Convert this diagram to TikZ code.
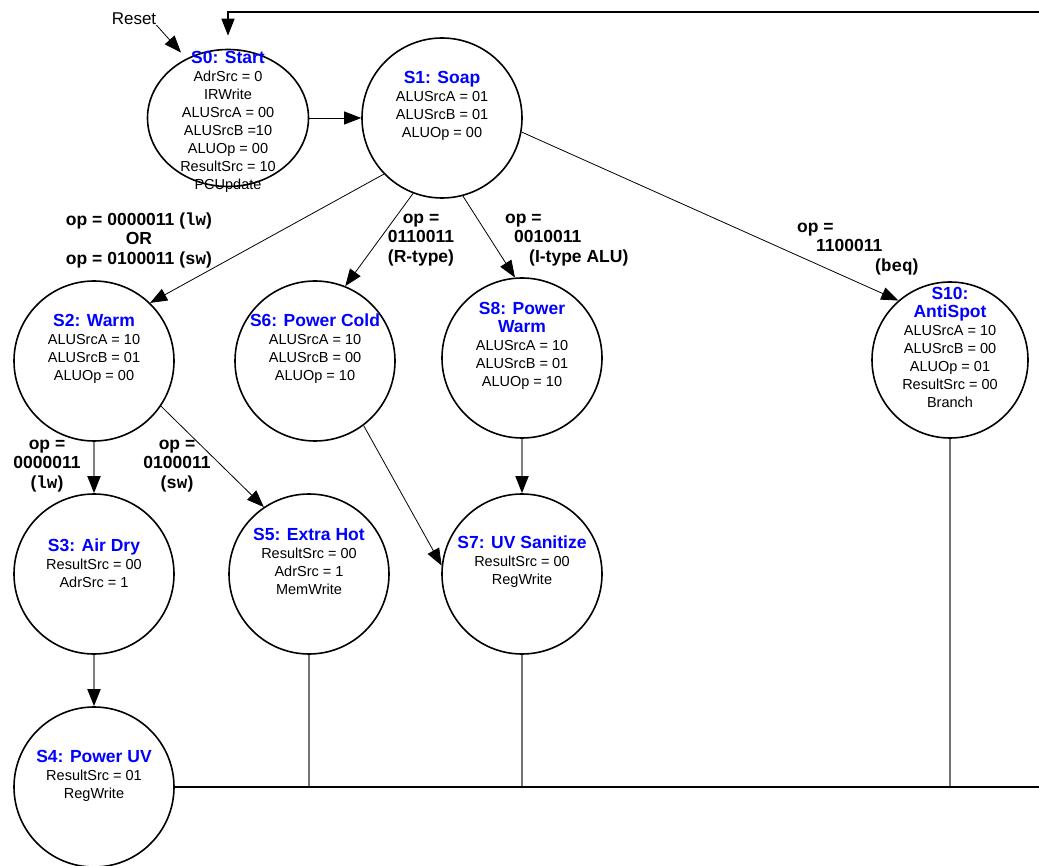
\documentclass[tikz,border=0pt]{standalone}
\usepackage{fontspec}
\setmainfont{Liberation Sans}
\setmonofont{Liberation Mono}
\usetikzlibrary{shapes.geometric, arrows.meta}
\tikzstyle{state} = [
    circle,
    minimum size=160pt,
    inner sep=0pt,
    draw=black,
    line width=1.6pt
]
\tikzstyle{stext} = [
    align=center,
    inner sep=0pt,
    font=\fontsize{14.5}{18}\selectfont
]
\tikzstyle{cond} = [
    align=center,
    inner sep=0pt,
    font=\fontsize{17.5}{19.5}\selectfont\bfseries
]
\tikzstyle{rst} = [
    inner sep=0pt,
    font=\fontsize{17}{20}\selectfont
]
\tikzstyle{arrow} = [line width=0.8pt,->,>={Triangle[length=17pt,width=13pt]}]
\tikzstyle{grayarrow} = [line width=1.8pt, draw=black!50,
    -{Triangle[length=17pt,width=13pt,color=black]}]
\tikzstyle{backline} = [line width=1.3pt,->,>={Triangle[length=17pt,width=13pt]}]
\tikzstyle{feed} = [line width=1.2pt, draw=black!55]
\newcommand{\sttl}[1]{{\fontsize{17.5}{19}\selectfont\bfseries\color{blue}#1}}
\newcommand{\opc}[1]{\texttt{#1}}

\begin{document}
\begin{tikzpicture}[x=1pt, y=-1pt]

\useasboundingbox (0,0) rectangle (1039,866);

\node (reset) [rst] at (134,19) {Reset};

\node (S0) [state, ellipse, minimum width=161pt, minimum height=137pt,
    label={[stext, yshift=-4pt]center:{\sttl{S0: Start}\\AdrSrc = 0\\IRWrite\\ALUSrcA = 00\\ALUSrcB =10\\ALUOp = 00\\ResultSrc = 10\\PCUpdate}}]
    at (228,118) {};

\node (S1) [state,
    label={[stext, yshift=12pt]center:{\sttl{S1: Soap}\\ALUSrcA = 01\\ALUSrcB = 01\\ALUOp = 00}}]
    at (442,118) {};

\node (S2) [state,
    label={[stext, yshift=12pt]center:{\sttl{S2: Warm}\\ALUSrcA = 10\\ALUSrcB = 01\\ALUOp = 00}}]
    at (94,361) {};

\node (S6) [state,
    label={[stext, yshift=12pt]center:{\sttl{S6: Power Cold}\\ALUSrcA = 10\\ALUSrcB = 00\\ALUOp = 10}}]
    at (315,361) {};

\node (S8) [state,
    label={[stext, yshift=12pt]center:{\sttl{S8: Power}\\\sttl{Warm}\\ALUSrcA = 10\\ALUSrcB = 01\\ALUOp = 10}}]
    at (522,358) {};

\node (S10) [state, minimum size=156pt,
    label={[stext, yshift=13pt]center:{\sttl{S10:}\\\sttl{AntiSpot}\\ALUSrcA = 10\\ALUSrcB = 00\\ALUOp = 01\\ResultSrc = 00\\Branch}}]
    at (950,360) {};

\node (S3) [state,
    label={[stext, yshift=11pt]center:{\sttl{S3: Air Dry}\\ResultSrc = 00\\AdrSrc = 1}}]
    at (94,574) {};

\node (S5) [state,
    label={[stext, yshift=13pt]center:{\sttl{S5: Extra Hot}\\ResultSrc = 00\\AdrSrc = 1\\MemWrite}}]
    at (309,574) {};

\node (S7) [state,
    label={[stext, yshift=12pt]center:{\sttl{S7: UV Sanitize}\\ResultSrc = 00\\RegWrite}}]
    at (522,574) {};

\node (S4) [state,
    label={[stext, yshift=11pt]center:{\sttl{S4: Power UV}\\ResultSrc = 01\\RegWrite}}]
    at (94,787) {};

% transition conditions
\node (c12) [cond] at (139,240)
{op = 0000011 (\opc{lw})\\OR\\op = 0100011 (\opc{sw})};

\node (c16) [cond] at (421,240)
{op =\\0110011\\(R-type)};

\node (c18) [cond, align=left, anchor=west] at (505,240)
{op =\\\hspace*{9pt}0010011\\\hspace*{24pt}(I-type ALU)};

\node (c110) [cond, align=left, anchor=west] at (797,249)
{op =\\\hspace*{19pt}1100011\\\hspace*{78pt}(\opc{beq})};

\node (c23) [cond] at (47,466)
{op =\\0000011\\(\opc{lw})};

\node (c25) [cond] at (177,466)
{op =\\0100011\\(\opc{sw})};

% return path runs just past the right edge
\coordinate (br) at (1042,787);
\coordinate (tr) at (1042,12);

\draw [arrow, shorten >=8pt] (reset.south east) -- (S0.125);
\draw [arrow] (S0.east) -- (S1.west);

\draw [arrow] (S1.224) -- (S2.46);
\draw [arrow] (S1.249) -- (S6.68);
\draw [arrow] (S1.285) -- (S8.95);
\draw [arrow] (S1.350) -- (S10.131);

\draw [grayarrow] (S2.south) -- (S3.north);
\draw [arrow] (S2.326) -- (S5.124);
\draw [arrow] (S6.307) -- (S7.174);
\draw [grayarrow] (S8.south) -- (S7.north);
\draw [grayarrow] (S3.south) -- (S4.north);

\draw [feed] (S5.south) -- (S5.south |- br);
\draw [feed] (S7.south) -- (S7.south |- br);
\draw [feed] (S10.south) -- (S10.south |- br);

\draw [backline, shorten >=13pt] (S4.east) -- (br) -- (tr) -| (S0.north);

\end{tikzpicture}
\end{document}
